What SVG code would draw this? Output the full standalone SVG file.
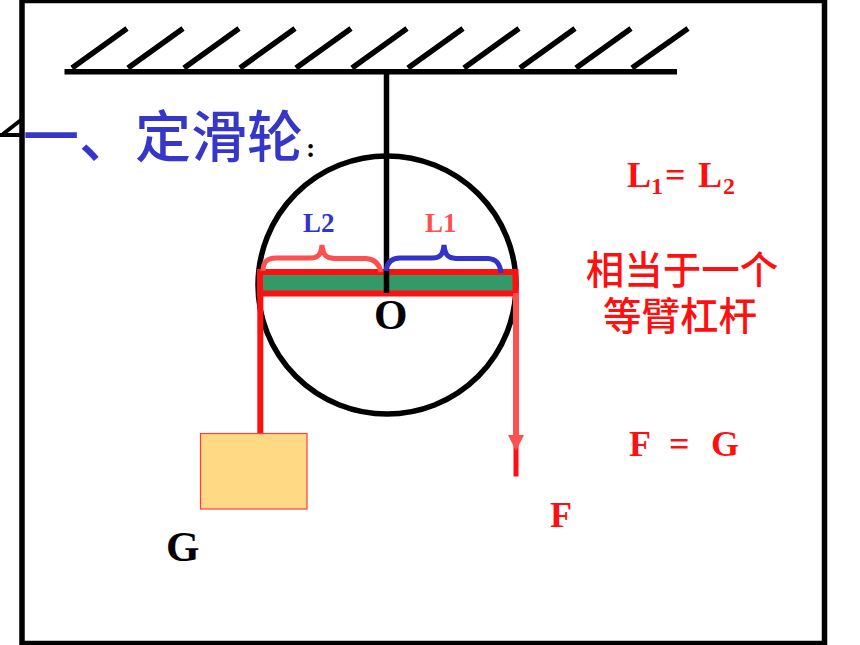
<svg xmlns="http://www.w3.org/2000/svg" width="860" height="645" viewBox="0 0 860 645">
<style>
.k{fill:none;stroke:#000;stroke-linecap:butt}
.r{fill:none;stroke:#ff1010}
.s{font-family:"Liberation Serif",serif;font-weight:bold}
.c{font-family:"Noto Sans CJK SC",sans-serif;font-weight:500}
</style>
<rect width="860" height="645" fill="#fff"/>
<g id="frame"><path d="M22 0.500H824.500V643.500H22Z" class="k" stroke-width="5.500"/>
<path d="M0 135H21M3 134L21 120" class="k" stroke-width="4"/></g>
<g id="ceiling">
<path d="M64.500 71.700H677" class="k" stroke-width="5.500"/>
<path d="M72 68L127 28.500M128 68L183 28.500M184 68L239 28.500M240 68L295 28.500M296 68L351 28.500M352 68L407 28.500M408 68L463 28.500M464 68L519 28.500M520 68L575 28.500M576 68L631 28.500M632 68L688 28.500" class="k" stroke-width="5.500"/>
</g>
<g id="pulley"><circle cx="387" cy="285" r="129" class="k" stroke-width="5.500"/></g>
<g id="lever">
<rect x="260" y="272" width="255.500" height="21.500" fill="#339966" stroke="#ff1010" stroke-width="6"/>
</g>
<g id="connectors">
<path d="M386.500 71V293" class="k" stroke-width="5.500"/>
<path d="M260.300 293V434" class="r" stroke-width="6"/>
<path d="M516 293V440" fill="none" stroke="#ff5050" stroke-width="6"/>
<path d="M516 440V476.500" class="r" stroke-width="5"/>
<path d="M508 435H524L516 451Z" fill="#ff5050"/>
</g>
<g id="brace-l2"><path d="M263 271C263 261 268 258 276 258H310C317 258 321 256 322 245C323 256 327 258 334 258.500H366C374 259 379 263 381 272" fill="none" stroke="#ff5050" stroke-width="5"/></g>
<g id="brace-l1"><path d="M386 271C387 262 392 258 400 258H432C439 258 443 256 444 245C445 256 449 258 456 258.500H488C496 259 500 263 501 273" fill="none" stroke="#3333cc" stroke-width="5"/></g>
<g id="weight"><rect x="200.500" y="433.500" width="106.500" height="75.500" fill="#ffd983" stroke="#ff3c3c" stroke-width="1.200"/></g>
<g id="labels">
<text x="23" y="157" font-size="56" fill="#3636c8" class="c">一、定滑轮</text>
<text x="306" y="157" font-size="28" fill="#000" class="s">:</text>
<text x="303" y="232" font-size="27" fill="#3333cc" class="s">L2</text>
<text x="425" y="232" font-size="27" fill="#ff5050" class="s">L1</text>
<text x="374" y="329" font-size="43" fill="#000" class="s">O</text>
<text x="166" y="561" font-size="43" fill="#000" class="s">G</text>
<text x="550" y="527" font-size="36" fill="#ff1010" class="s">F</text>
<text y="456" font-size="36" fill="#ff1010" class="s"><tspan x="629">F</tspan><tspan x="669">=</tspan><tspan x="711">G</tspan></text>
<text y="187" font-size="36" fill="#ff1010" class="s"><tspan x="627">L</tspan><tspan x="651" y="194" font-size="24">1</tspan><tspan x="665" y="187">=</tspan><tspan x="698">L</tspan><tspan x="723" y="194" font-size="24">2</tspan></text>
<text font-size="38.500" fill="#ff1010" class="c" text-anchor="middle"><tspan x="682" y="284">相当于一个</tspan><tspan x="680" y="330">等臂杠杆</tspan></text>
</g>
</svg>
